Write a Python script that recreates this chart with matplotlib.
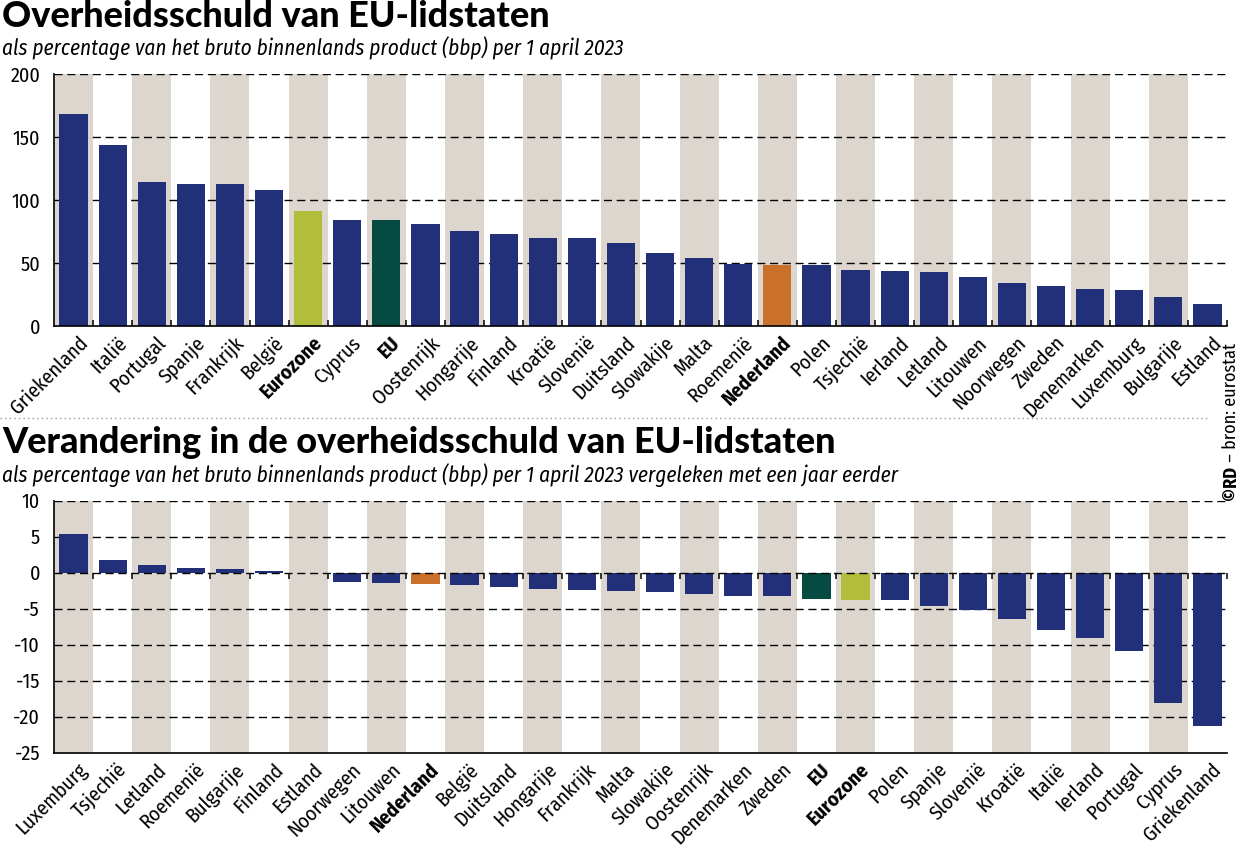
import numpy as np
import matplotlib
matplotlib.use("Agg")
import matplotlib.pyplot as plt
from matplotlib import font_manager as fm, transforms
from matplotlib.lines import Line2D

# ---------------- data ----------------
title1 = "Overheidsschuld van EU-lidstaten"
subtitle1 = "als percentage van het bruto binnenlands product (bbp) per 1 april 2023"
title2 = "Verandering in de overheidsschuld van EU-lidstaten"
subtitle2 = "als percentage van het bruto binnenlands product (bbp) per 1 april 2023 vergeleken met een jaar eerder"
credit_bold = "©RD"
credit_rest = " – bron: eurostat"

debt_countries = ["Griekenland", "Italië", "Portugal", "Spanje", "Frankrijk", "België",
                  "Eurozone", "Cyprus", "EU", "Oostenrijk", "Hongarije", "Finland",
                  "Kroatië", "Slovenië", "Duitsland", "Slowakije", "Malta", "Roemenië",
                  "Nederland", "Polen", "Tsjechië", "Ierland", "Letland", "Litouwen",
                  "Noorwegen", "Zweden", "Denemarken", "Luxemburg", "Bulgarije", "Estland"]
debt_values = [168.5, 143.6, 113.9, 112.9, 112.4, 107.6,
               91.6, 84.1, 83.8, 80.8, 75.1, 72.8,
               69.6, 69.6, 66.1, 57.9, 53.7, 49.2,
               48.4, 48.2, 44.7, 43.6, 43.1, 38.6,
               34.4, 31.7, 29.6, 28.3, 22.8, 17.2]
debt_yticks = [0, 50, 100, 150, 200]

change_countries = ["Luxemburg", "Tsjechië", "Letland", "Roemenië", "Bulgarije", "Finland",
                    "Estland", "Noorwegen", "Litouwen", "Nederland", "België", "Duitsland",
                    "Hongarije", "Frankrijk", "Malta", "Slowakije", "Oostenrijk", "Denemarken",
                    "Zweden", "EU", "Eurozone", "Polen", "Spanje", "Slovenië",
                    "Kroatië", "Italië", "Ierland", "Portugal", "Cyprus", "Griekenland"]
change_values = [5.4, 1.7, 1.1, 0.7, 0.5, 0.2,
                 -0.1, -1.3, -1.45, -1.6, -1.7, -2.0,
                 -2.2, -2.4, -2.6, -2.65, -2.9, -3.2,
                 -3.2, -3.6, -3.8, -3.8, -4.65, -5.2,
                 -6.4, -7.95, -9.0, -10.9, -18.1, -21.3]
change_yticks = [-25, -20, -15, -10, -5, 0, 5, 10]

bold_labels = ["Eurozone", "EU", "Nederland"]

# ---------------- style ----------------
NAVY = "#22307a"
STRIPE = "#ddd6cf"
SPECIAL = {"Eurozone": "#b1bd3b", "EU": "#064b41", "Nederland": "#c9702b"}

W, H = 1238, 846
plt.rcParams["lines.scale_dashes"] = False

avail = {f.name for f in fm.fontManager.ttflist}
def pick(*cands):
    for c in cands:
        if c in avail:
            return c
    return "DejaVu Sans"

F_TITLE = pick("Lato", "Open Sans", "DejaVu Sans")
F_SUB = pick("Fira Sans Condensed", "IBM Plex Sans Condensed", "Open Sans")
F_LAB = pick("Fira Sans Condensed", "IBM Plex Sans Condensed", "Open Sans")

fig = plt.figure(figsize=(W / 100, H / 100), dpi=100)

def fx(px):
    return px / W

def fy(py):
    return 1 - py / H

def fit_width(t, target_px):
    fig.canvas.draw()
    r = fig.canvas.get_renderer()
    w = t.get_window_extent(renderer=r).width
    t.set_fontsize(t.get_fontsize() * target_px / w)
    return t.get_fontsize()

# ---------------- titles ----------------
t2 = fig.text(fx(2), fy(453), title2, fontsize=24, fontweight=900, family=F_TITLE,
              va="baseline", ha="left")
ts = fit_width(t2, 833)
fig.text(fx(2), fy(27), title1, fontsize=ts, fontweight=900, family=F_TITLE,
         va="baseline", ha="left")

s2 = fig.text(fx(2), fy(482), subtitle2, fontsize=15, style="italic", family=F_SUB,
              va="baseline", ha="left")
ss = fit_width(s2, 897)
fig.text(fx(2), fy(55), subtitle1, fontsize=ss, style="italic", family=F_SUB,
         va="baseline", ha="left")

# separator
fig.add_artist(Line2D([fx(0), fx(1208)], [fy(418), fy(418)], transform=fig.transFigure,
                      color="#9a9a9a", lw=1.0, linestyle=(0, (1.0, 2.3))))

# credit (vertical)
cb = fig.text(fx(1231), fy(500), credit_bold, rotation=90, fontsize=13, fontweight="bold",
              family=F_LAB, ha="center", va="bottom")
fig.canvas.draw()
hb = cb.get_window_extent(renderer=fig.canvas.get_renderer()).height
fig.text(fx(1231), fy(500 - hb), credit_rest, rotation=90, fontsize=13,
         family=F_LAB, ha="center", va="bottom")

# ---------------- panels ----------------
def panel(ax, cats, vals, yticks, zero_line_inside):
    n = len(cats)
    x = np.arange(n)
    ax.set_xlim(-0.5, n - 0.5)
    ax.set_ylim(min(yticks), max(yticks))
    for i in range(0, n, 2):
        ax.axvspan(i - 0.5, i + 0.5, color=STRIPE, lw=0, zorder=0)
    for g in yticks[1:]:
        z = 3 if (zero_line_inside and g == 0) else 1
        ax.axhline(g, color="black", lw=1.0, linestyle=(0, (5.8, 3.4)), zorder=z)
    colors = [SPECIAL.get(c, NAVY) for c in cats]
    ax.bar(x, vals, width=0.72, color=colors, zorder=2)

    for s in ("top", "right"):
        ax.spines[s].set_visible(False)
    for s in ("left", "bottom"):
        ax.spines[s].set_linewidth(1.2)
        ax.spines[s].set_zorder(5)

    ax.set_yticks(yticks)
    ax.set_yticklabels([str(v) for v in yticks])
    ax.tick_params(axis="y", length=0, pad=10, labelsize=14.5)
    for lab in ax.get_yticklabels():
        lab.set_family(F_LAB)

    bounds = np.arange(n) + 0.5
    if zero_line_inside:
        ax.set_xticks([])
        ax.plot(bounds, np.zeros(n), linestyle="none", marker=3, ms=4.5, mew=1.1,
                color="black", zorder=4, clip_on=False)
    else:
        ax.set_xticks(bounds)
        ax.tick_params(axis="x", direction="in", length=4.5, width=1.1, labelbottom=False)

    trans = transforms.offset_copy(ax.get_xaxis_transform(), fig=fig, x=11, y=-14, units="dots")
    for i, c in enumerate(cats):
        ax.text(i, 0, c, transform=trans, rotation=45, rotation_mode="anchor",
                ha="right", va="center", fontsize=14.5, family=F_LAB,
                fontweight="bold" if c in bold_labels else "normal")

ax1 = fig.add_axes([fx(54), fy(326), fx(1227) - fx(54), (326 - 74) / H])
panel(ax1, debt_countries, debt_values, debt_yticks, False)

ax2 = fig.add_axes([fx(54), fy(752.7), fx(1227) - fx(54), (752.7 - 500.7) / H])
panel(ax2, change_countries, change_values, change_yticks, True)

fig.savefig("out.png", dpi=100)
